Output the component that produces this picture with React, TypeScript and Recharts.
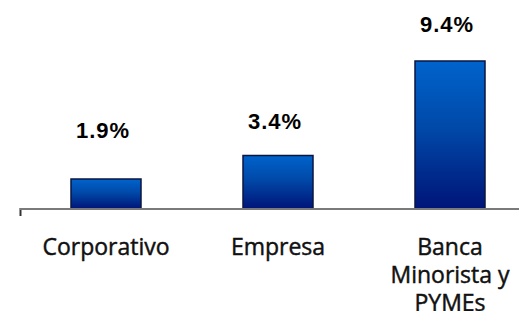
import React from 'react';
import { BarChart, Bar, XAxis, YAxis, LabelList, usePlotArea } from 'recharts';

const categories = ['Corporativo', 'Empresa', 'Banca\nMinorista y\nPYMEs'];
const values = [1.9, 3.4, 9.4];
const valueLabels = ['1.9%', '3.4%', '9.4%'];

const labelLift = [41, 26, 29];

const data = categories.map((c, i) => ({ name: c, value: values[i], label: valueLabels[i] }));

const CategoryTick = (props: any) => {
  const { x, y, payload } = props;
  const lines = String(payload.value).split('\n');
  return (
    <g>
      {lines.map((l: string, i: number) => (
        <text
          key={i}
          x={x}
          y={y + 38 + i * 28}
          textAnchor="middle"
          fontFamily="'Open Sans', sans-serif"
          fontSize={23}
          fill="#111"
          stroke="#111"
          strokeWidth={0.45}
        >
          {l}
        </text>
      ))}
    </g>
  );
};

const ValueLabel = (props: any) => {
  const { x, y, width, index } = props;
  return (
    <text
      x={x + width / 2 - 3}
      y={y - labelLift[index]}
      textAnchor="middle"
      fontFamily="'Liberation Sans', Arial, sans-serif"
      fontWeight="bold"
      fontSize={22}
      letterSpacing={1}
      fill="#000"
    >
      {valueLabels[index]}
    </text>
  );
};

const LeftTick = () => {
  const area = usePlotArea ? usePlotArea() : null;
  if (!area) return null;
  const bottom = area.y + area.height;
  return <line x1={area.x + 0.5} x2={area.x + 0.5} y1={bottom - 1} y2={bottom + 7} stroke="#333" strokeWidth={2} />;
};

export default function App() {
  return (
    <div style={{ position: 'absolute', left: 0, top: 0, width: 519, height: 311, overflow: 'hidden', background: '#fff' }}>
      <BarChart
        width={540}
        height={311}
        data={data}
        margin={{ top: 20, right: 4, bottom: 0, left: 20 }}
        barSize={70}
      >
        <defs>
          <linearGradient id="barGrad" x1="0" y1="0" x2="0" y2="1">
            <stop offset="0%" stopColor="#0063CC" />
            <stop offset="45%" stopColor="#0049A8" />
            <stop offset="100%" stopColor="#001478" />
          </linearGradient>
        </defs>
        <YAxis hide domain={[0, 12]} />
        <XAxis
          dataKey="name"
          height={102}
          axisLine={{ stroke: '#7a7a7a', strokeWidth: 2 }}
          tickLine={false}
          tick={<CategoryTick />}
          interval={0}
        />
        <Bar dataKey="value" fill="url(#barGrad)" stroke="#0a1640" strokeWidth={1.5} isAnimationActive={false}>
          <LabelList dataKey="label" content={<ValueLabel />} />
        </Bar>
        <LeftTick />
      </BarChart>
    </div>
  );
}
